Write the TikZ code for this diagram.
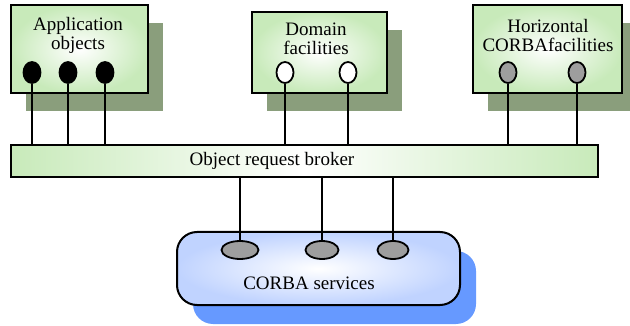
\documentclass[tikz,border=0pt]{standalone}
\usepackage{fontspec}
\setmainfont{Liberation Serif}
\usetikzlibrary{shapes.geometric,shadows}
\definecolor{facgreen}{RGB}{200,234,186}
\definecolor{shadowgreen}{RGB}{138,158,124}
\definecolor{svcblue}{RGB}{192,211,255}
\definecolor{shadowblue}{RGB}{102,153,255}
\definecolor{knobgray}{RGB}{158,158,158}

\begin{document}
\begin{tikzpicture}[x=1pt,y=-1pt,
	facbox/.style={draw, line width=2.8pt, inner color=white, outer color=facgreen,
		general shadow={fill=shadowgreen, shadow xshift=15pt, shadow yshift=-18pt}},
	knob/.style={draw, ellipse, line width=1.8pt, minimum width=17pt,
		minimum height=21pt, inner sep=0pt},
	svcknob/.style={draw, ellipse, line width=1.8pt, fill=knobgray, minimum height=18pt,
		inner sep=0pt},
	wire/.style={line width=1.6pt},
	txt/.style={font=\fontsize{19}{19}\selectfont, inner sep=0pt, align=center}]
	\useasboundingbox (0,0) rectangle (630,326);

	% facility boxes
	\node[facbox, minimum width=137pt, minimum height=88pt] (app) at (79.5,49) {};
	\node[facbox, minimum width=135pt, minimum height=81pt] (dom) at (319.5,52.5) {};
	\node[facbox, minimum width=149pt, minimum height=88pt] (hor) at (547.5,49) {};
	\node[txt] (apptext) at (78,35.5) {Application\\objects};
	\node[txt] (domtext) at (316,38.5) {Domain\\facilities};
	\node[txt] (hortext) at (548,35.5) {Horizontal\\CORBAfacilities};

	% knobs
	\foreach \x/\n in {32/1,68/2,105/3}
		\node[knob, fill=black] (app\n) at (\x,72.5) {};
	\foreach \x/\n in {285/1,348/2}
		\node[knob, fill=white] (dom\n) at (\x,72.5) {};
	\foreach \x/\n in {508/1,577/2}
		\node[knob, fill=knobgray] (hor\n) at (\x,72.5) {};

	% broker
	\node[draw, line width=2.6pt, minimum width=587pt, minimum height=32pt,
		left color=facgreen, right color=facgreen, middle color=white] (orb) at (304.5,161) {};
	\node[txt] (orbtext) at (272,161) {Object request broker};

	\foreach \k in {app1,app2,app3,dom1,dom2,hor1,hor2}
		\draw[wire] (\k.south) -- (\k.south |- orb.north);

	% services
	\node[draw, line width=2pt, rounded corners=20pt, minimum width=283pt, minimum height=73pt,
		inner color=white, outer color=svcblue,
		general shadow={fill=shadowblue, shadow xshift=16pt, shadow yshift=-19pt}] (svc) at (318.5,268.5) {};
	\node[svcknob, minimum width=37pt] (svc1) at (240,250) {};
	\node[svcknob, minimum width=33pt] (svc2) at (322,250) {};
	\node[svcknob, minimum width=31pt] (svc3) at (393,250) {};
	\node[txt] (svctext) at (309,283) {CORBA services};

	\foreach \k in {svc1,svc2,svc3}
		\draw[wire] (\k.north) -- (\k.north |- orb.south);
\end{tikzpicture}
\end{document}
